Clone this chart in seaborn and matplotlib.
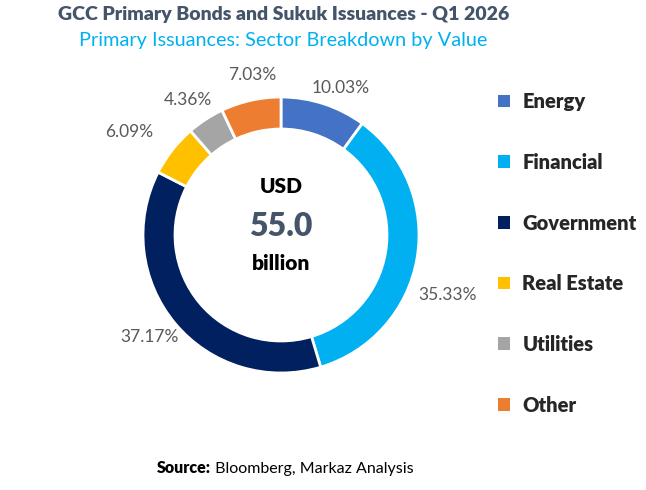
import numpy as np
import matplotlib.pyplot as plt
import seaborn as sns
from matplotlib.patches import Patch

# data
sectors = ["Energy", "Financial", "Government", "Real Estate", "Utilities", "Other"]
shares = [10.03, 35.33, 37.17, 6.09, 4.36, 7.03]
colors = ["#4472C4", "#00B0F0", "#002060", "#FFC000", "#A5A5A5", "#ED7D31"]
total_usd_bn = 55.0

# label placement (radius, angle shift in degrees), like excel's best fit
label_r = [1.15, 1.28, 1.21, 1.33, 1.19, 1.18]
label_dang = [-4, -10, -2, 4, 1.5, -2.5]

sns.set_theme(style="white")
plt.rcParams["font.family"] = ["Lato", "DejaVu Sans"]

fig = plt.figure(figsize=(6.46, 4.9), dpi=100)
ax = fig.add_axes([143 / 646, (490 - 373) / 490, 276 / 646, 276 / 490])

wedges, _ = ax.pie(shares, colors=colors, startangle=90, counterclock=False,
                   radius=1.0, wedgeprops=dict(width=0.232, edgecolor="white", linewidth=2))
ax.set_xlim(-1, 1)
ax.set_ylim(-1, 1)
ax.set_aspect("equal")
ax.axis("off")

# percentage labels outside the ring
for w, s, r, da in zip(wedges, shares, label_r, label_dang):
    ang = np.deg2rad((w.theta1 + w.theta2) / 2 + da)
    ax.text(r * np.cos(ang), r * np.sin(ang), f"{s:.2f}%", ha="center", va="center",
            fontsize=12.5, color="#595959")

# centre text
ax.text(0, 0.355, "USD", ha="center", va="center", fontsize=15, fontweight="heavy", color="black")
ax.text(0, 0.06, f"{total_usd_bn:.1f}", ha="center", va="center", fontsize=23,
        fontweight="heavy", color="#44546A")
ax.text(0, -0.205, "billion", ha="center", va="center", fontsize=15, fontweight="heavy", color="black")

# titles
fig.text(0.439, 0.971, "GCC Primary Bonds and Sukuk Issuances - Q1 2026", ha="center", va="center",
         fontsize=14, fontweight="heavy", color="#44546A")
fig.text(0.439, 0.918, "Primary Issuances: Sector Breakdown by Value", ha="center", va="center",
         fontsize=14.3, color="#00B0F0")

# legend
handles = [Patch(facecolor=c, edgecolor="none") for c in colors]
leg = fig.legend(handles, sectors, loc="upper left", bbox_to_anchor=(480 / 646, 1 - 74 / 490),
                 frameon=False, handlelength=0.6, handleheight=0.6, handletextpad=0.6,
                 labelspacing=2.07, prop=dict(size=14.5, weight="heavy"))

# source
t1 = fig.text(157 / 646, 1 - 468 / 490, "Source:", ha="left", va="center",
              fontsize=11.5, fontweight="heavy", color="black")
ax.annotate(" Bloomberg, Markaz Analysis", xy=(1, 0), xycoords=t1, ha="left", va="bottom",
            fontsize=11.5, color="black")

fig.savefig("out.png", dpi=100)
